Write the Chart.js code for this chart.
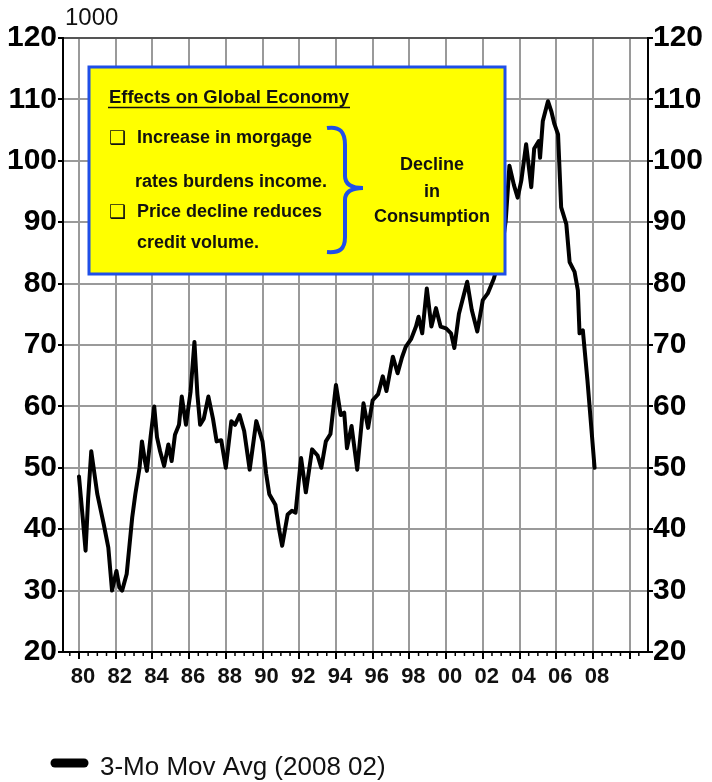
<html>
<head>
    <meta charset="utf-8">
    <title>3-Mo Mov Avg</title>
    <style>
        body { margin: 0; background: #fff; }
        canvas { display: block; }
    </style>
</head>
<body>
    <canvas id="myChart" width="712" height="782"></canvas>
</body>
<script src="https://cdn.jsdelivr.net/npm/chart.js"></script>
<script>
    // values (thousands), x = decimal year
    const years = [
        1980.0, 1980.2, 1980.36, 1980.5, 1980.67, 1981.0, 1981.35, 1981.6, 1981.8, 1982.04,
        1982.2, 1982.35, 1982.6, 1982.9, 1983.07, 1983.3, 1983.43, 1983.6, 1983.7, 1983.9,
        1984.1, 1984.25, 1984.42, 1984.64, 1984.87, 1985.05, 1985.23, 1985.45, 1985.6, 1985.83,
        1986.08, 1986.29, 1986.45, 1986.6, 1986.8, 1987.05, 1987.3, 1987.5, 1987.75, 1988.0,
        1988.3, 1988.5, 1988.75, 1989.0, 1989.3, 1989.66, 1990.0, 1990.2, 1990.37, 1990.7,
        1990.9, 1991.07, 1991.37, 1991.6, 1991.8, 1992.1, 1992.36, 1992.7, 1993.0, 1993.2,
        1993.45, 1993.7, 1994.0, 1994.26, 1994.45, 1994.6, 1994.85, 1995.16, 1995.5, 1995.75,
        1996.0, 1996.3, 1996.55, 1996.75, 1997.1, 1997.36, 1997.6, 1997.8, 1998.1, 1998.36,
        1998.5, 1998.7, 1998.95, 1999.2, 1999.45, 1999.7, 2000.0, 2000.27, 2000.45, 2000.7,
        2001.15, 2001.4, 2001.7, 2002.0, 2002.27, 2002.6, 2002.9, 2003.1, 2003.25, 2003.45,
        2003.7, 2003.9, 2004.1, 2004.36, 2004.64, 2004.8, 2005.05, 2005.12, 2005.27, 2005.55,
        2005.73, 2005.9, 2006.1, 2006.27, 2006.55, 2006.73, 2007.0, 2007.18, 2007.27, 2007.45,
        2007.7, 2008.09
    ];
    const movAvg = [
        48.6, 42, 36.5, 45, 52.7, 45.7, 40.8, 37, 30, 33.2,
        30.5, 30, 32.7, 41.9, 45.7, 50, 54.3, 51, 49.5, 55,
        60, 55, 52.7, 50.3, 53.8, 51.1, 55.4, 57, 61.6, 57,
        62.4, 70.5, 62, 57, 58, 61.6, 58, 54.3, 54.5, 50,
        57.6, 57, 58.6, 56, 49.7, 57.6, 54.3, 49, 45.7, 44,
        40, 37.3, 42.4, 43, 42.7, 51.6, 46, 53, 52, 50,
        54.3, 55.5, 63.5, 58.6, 59, 53.2, 56.8, 49.7, 60.5, 56.5,
        61, 62, 64.9, 62.5, 68.1, 65.4, 68, 69.7, 71, 73,
        74.6, 71.9, 79.2, 73, 76, 73, 72.7, 71.9, 69.5, 75.1,
        80.3, 75.7, 72.2, 77.3, 78.4, 80.8, 84, 87, 90.3, 99.2,
        96, 94, 96.8, 102.7, 95.7, 102, 103.2, 100.5, 106.5, 109.7,
        108.1, 106, 104.3, 92.4, 89.7, 83.5, 81.9, 78.9, 71.9, 72.4,
        64.3, 50
    ];
    const yearTicks = [1980, 1982, 1984, 1986, 1988, 1990, 1992, 1994, 1996, 1998, 2000, 2002, 2004, 2006, 2008, 2010];
    const seriesLabel = '3-Mo Mov Avg (2008 02)';
    const unitLabel = '1000';

    const SANS = "'Liberation Sans', Arial, sans-serif";
    const NARROW = "'Liberation Sans Narrow', 'Arial Narrow', 'Liberation Sans', sans-serif";

    const yAxis = (pos) => ({
        position: pos,
        min: 20,
        max: 120,
        ticks: {
            stepSize: 10,
            padding: pos === 'left' ? 1 : 0,
            color: '#000',
            font: { family: SANS, size: 30, weight: 'bold' }
        },
        grid: {
            drawOnChartArea: pos === 'left',
            color: (c) => c.tick && c.tick.value === 120 ? '#555' : '#9a9a9a',
            lineWidth: 2,
            tickLength: 5,
            tickColor: '#000'
        },
        border: { color: '#000', width: 2 },
        afterFit: (s) => { s.width = pos === 'left' ? 63 : 64 }
    });

    // minor ticks, legend, unit label and the yellow note box
    const extras = {
        id: 'extras',
        afterDraw(chart) {
            const ctx = chart.ctx;
            const xs = chart.scales.x;
            const bottom = chart.chartArea.bottom;

            ctx.save();
            ctx.strokeStyle = '#000';
            ctx.lineWidth = 1.5;
            for (let v = 1979.5; v < 2011; v += 0.5) {
                if (v % 2 === 0) continue;
                const px = xs.getPixelForValue(v);
                ctx.beginPath();
                ctx.moveTo(px, bottom);
                ctx.lineTo(px, bottom + 4);
                ctx.stroke();
            }

            // unit label
            ctx.fillStyle = '#111';
            ctx.font = '24px ' + SANS;
            ctx.textBaseline = 'alphabetic';
            ctx.fillText(unitLabel, 65, 25);

            // legend
            ctx.lineCap = 'round';
            ctx.lineWidth = 9;
            ctx.beginPath();
            ctx.moveTo(55, 763);
            ctx.lineTo(84, 763);
            ctx.stroke();
            ctx.font = '26px ' + SANS;
            ctx.fillText(chart.data.datasets[0].label, 100, 775);

            // note box
            ctx.fillStyle = '#ffff00';
            ctx.fillRect(89, 67, 416, 207);
            ctx.strokeStyle = '#1f4fe8';
            ctx.lineWidth = 3;
            ctx.lineCap = 'butt';
            ctx.strokeRect(89, 67, 416, 207);

            ctx.fillStyle = '#111';
            ctx.font = 'bold 18px ' + SANS;
            const title = 'Effects on Global Economy';
            const tw = ctx.measureText(title).width;
            ctx.save();
            ctx.translate(109, 103);
            ctx.scale(240 / tw, 1);
            ctx.fillText(title, 0, 0);
            ctx.restore();
            ctx.strokeStyle = '#111';
            ctx.lineWidth = 1.5;
            ctx.beginPath();
            ctx.moveTo(108, 107.5);
            ctx.lineTo(350, 107.5);
            ctx.stroke();

            ctx.fillText('Increase in morgage', 137, 143);
            ctx.fillText('rates burdens income.', 135, 187);
            ctx.fillText('Price decline reduces', 137, 217);
            ctx.fillText('credit volume.', 137, 248);

            ctx.font = 'bold 19px DejaVu Sans, sans-serif';
            ctx.fillText('❑', 109, 144);
            ctx.fillText('❑', 109, 218);

            ctx.font = 'bold 18px ' + SANS;
            ctx.textAlign = 'center';
            ctx.fillText('Decline', 432, 170);
            ctx.fillText('in', 432, 197);
            ctx.fillText('Consumption', 432, 222);

            // brace
            ctx.strokeStyle = '#1f4fe8';
            ctx.lineWidth = 4;
            ctx.beginPath();
            ctx.moveTo(327, 128);
            ctx.bezierCurveTo(340, 126, 345, 132, 345, 145);
            ctx.lineTo(345, 176);
            ctx.bezierCurveTo(345, 185, 352, 188, 363, 188);
            ctx.bezierCurveTo(352, 188, 345, 191, 345, 200);
            ctx.lineTo(345, 237);
            ctx.bezierCurveTo(345, 249, 340, 253, 327, 252);
            ctx.stroke();
            ctx.restore();
        }
    };

    const ctx = document.getElementById('myChart').getContext('2d');
    new Chart(ctx, {
        type: 'line',
        data: {
            datasets: [{
                label: seriesLabel,
                data: years.map((x, i) => ({ x: x, y: movAvg[i] })),
                borderColor: '#000',
                borderWidth: 4,
                borderJoinStyle: 'round',
                borderCapStyle: 'round',
                pointRadius: 0,
                tension: 0
            }]
        },
        options: {
            responsive: false,
            animation: false,
            layout: { padding: { top: 38, bottom: 80, left: 0, right: 0 } },
            plugins: {
                legend: { display: false },
                tooltip: { enabled: false }
            },
            scales: {
                x: {
                    type: 'linear',
                    min: 1979.13,
                    max: 2011,
                    afterBuildTicks: (s) => { s.ticks = yearTicks.map(v => ({ value: v })) },
                    ticks: {
                        autoSkip: false,
                        maxRotation: 0,
                        padding: 5,
                        labelOffset: 4,
                        color: '#111',
                        font: { family: NARROW, size: 22, weight: 'bold' },
                        callback: (v) => v <= 2008 ? String(v).slice(2) : ''
                    },
                    grid: {
                        color: '#9a9a9a',
                        lineWidth: 2,
                        tickLength: 7,
                        tickColor: '#000'
                    },
                    border: { color: '#000', width: 2 },
                    afterFit: (s) => { s.height = 50 }
                },
                y: yAxis('left'),
                y2: yAxis('right')
            }
        },
        plugins: [extras]
    });
</script>
</html>
